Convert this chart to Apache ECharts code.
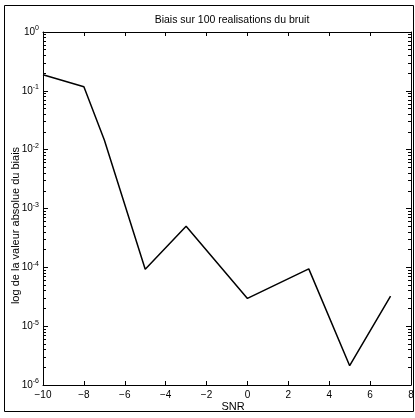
<!DOCTYPE html>
<html>
<head>
<meta charset="utf-8">
<script src="https://cdn.jsdelivr.net/npm/echarts@6/dist/echarts.min.js"></script>
<style>html,body{margin:0;padding:0;background:#fff;}#c{width:415px;height:418px;}</style>
</head>
<body>
<div id="c"></div>
<script>
const titleText = 'Biais sur 100 realisations du bruit';
const xLabel = 'SNR';
const yLabel = 'log de la valeur absolue du biais';
const snr = [-10, -8, -7, -5, -3, 0, 3, 5, 7];
const bias = [0.187, 0.117, 0.0146, 9.3e-5, 5.0e-4, 2.96e-5, 9.4e-5, 2.13e-6, 3.25e-5];
const xTicks = [-10, -8, -6, -4, -2, 0, 2, 4, 6, 8];
const yMajor = [1e-6, 1e-5, 1e-4, 1e-3, 1e-2, 1e-1, 1];

const yMinor = [];
for (let e = -6; e < 0; e++) for (let m = 2; m <= 9; m++) yMinor.push(m * Math.pow(10, e));

const font = 'Liberation Sans, Arial, sans-serif';
const chart = echarts.init(document.getElementById('c'));

function yAxisDef(pos, ticks, len, showLabel, showLine) {
  return {
    type: 'log', position: pos, min: 1e-6, max: 1, logBase: 10,
    axisLine: { show: showLine, onZero: false, lineStyle: { color: '#000', width: 1 } },
    axisTick: { show: true, inside: true, length: len, customValues: ticks, lineStyle: { color: '#000' } },
    axisLabel: {
      show: showLabel, customValues: yMajor, margin: 4,
      formatter: v => '{b|10}{s|' + Math.round(Math.log10(v)) + '}',
      rich: {
        b: { fontFamily: font, fontSize: 10, color: '#000' },
        s: { fontFamily: font, fontSize: 7, color: '#000', verticalAlign: 'bottom', padding: [0, 0, 7, 0] }
      }
    },
    splitLine: { show: false }, minorTick: { show: false }
  };
}
function xAxisDef(pos, showLabel) {
  return {
    type: 'value', position: pos, min: -10, max: 8, interval: 2,
    axisLine: { show: true, onZero: false, lineStyle: { color: '#000', width: 1 } },
    axisTick: { show: true, inside: true, length: 4, lineStyle: { color: '#000' } },
    axisLabel: { show: showLabel, color: '#000', fontFamily: font, fontSize: 10, margin: 5,
      customValues: xTicks, formatter: v => (v < 0 ? '\u2212' + (-v) : '' + v) },
    splitLine: { show: false },
    name: showLabel ? xLabel : '', nameLocation: 'middle', nameGap: 16, nameMoveOverlap: false,
    nameTextStyle: { color: '#000', fontFamily: font, fontSize: 11, padding: [0, 0, 0, 12] }
  };
}

const yAxes = [
  yAxisDef('left', yMajor, 5, true, true),
  yAxisDef('left', yMinor, 3, false, false),
  yAxisDef('right', yMajor, 5, false, true),
  yAxisDef('right', yMinor, 3, false, false)
];
yAxes[0].name = yLabel;
yAxes[0].nameLocation = 'middle';
yAxes[0].nameGap = 22;
yAxes[0].nameMoveOverlap = false;
yAxes[0].nameTextStyle = { color: '#000', fontFamily: font, fontSize: 11, padding: [0, 34, 0, 0] };

chart.setOption({
  animation: false,
  backgroundColor: '#fff',
  title: { text: titleText, left: 227, top: 10, textAlign: 'center',
    textStyle: { color: '#000', fontFamily: font, fontSize: 10.5, fontWeight: 'normal' } },
  grid: { left: 43, right: 4, top: 32, bottom: 33, containLabel: false, outerBoundsMode: 'none' },
  xAxis: [xAxisDef('bottom', true), xAxisDef('top', false)],
  yAxis: yAxes,
  graphic: [{
    type: 'rect', shape: { x: 4.5, y: 5.5, width: 409, height: 406 },
    style: { fill: 'none', stroke: '#000', lineWidth: 1 }, silent: true
  }],
  series: [{
    type: 'line', xAxisIndex: 0, yAxisIndex: 0,
    data: snr.map((x, i) => [x, bias[i]]),
    showSymbol: false, lineStyle: { color: '#000', width: 1.5 }
  }]
});
</script>
</body>
</html>
